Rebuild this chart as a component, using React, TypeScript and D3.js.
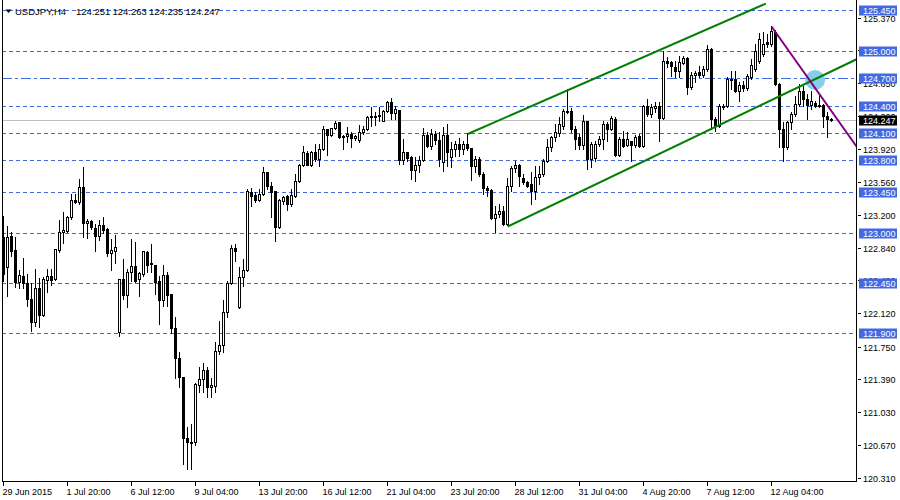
import React from 'react';
import * as d3 from 'd3';

const symbolTitle = 'USDJPY,H4';

const barOpen = [
  122.951,122.621,122.962,122.808,122.456,122.522,122.445,122.269,122.016,122.390,
  122.093,122.478,122.522,122.489,122.808,123.006,123.017,123.171,123.358,123.336,
  123.501,123.105,123.127,123.050,122.962,123.083,123.039,122.775,122.797,121.906,
  122.489,122.313,122.566,122.632,122.489,122.544,122.786,122.665,122.643,122.467,
  122.258,122.533,122.324,121.950,121.620,121.411,120.740,120.685,120.696,121.323,
  121.389,121.488,121.301,121.312,121.697,121.763,122.126,122.445,122.830,122.181,
  122.511,122.588,123.446,123.413,123.358,123.424,123.666,123.512,123.457,123.061,
  123.347,123.402,123.314,123.402,123.567,123.743,123.875,123.743,123.886,123.809,
  123.919,124.139,124.073,124.150,124.216,124.062,124.062,124.084,124.040,124.018,
  124.106,124.139,124.271,124.277,124.282,124.227,124.337,124.436,124.315,124.348,
  123.798,123.886,123.831,123.688,123.743,123.798,124.073,123.952,124.084,124.018,
  123.776,124.073,123.831,123.919,123.974,123.919,123.974,123.930,123.732,123.809,
  123.644,123.490,123.468,123.160,123.204,123.237,123.094,123.512,123.710,123.743,
  123.600,123.556,123.534,123.457,123.611,123.644,123.787,123.941,124.051,124.095,
  124.172,124.337,124.337,124.139,124.051,123.963,124.227,123.809,123.820,123.974,
  124.029,124.194,124.139,124.249,123.853,124.029,123.963,124.007,123.963,124.062,
  123.952,124.392,124.304,124.370,124.392,124.260,124.887,124.876,124.821,124.777,
  124.865,124.920,124.601,124.733,124.766,124.733,124.799,125.019,124.249,124.172,
  124.381,124.392,124.678,124.689,124.557,124.623,124.590,124.711,124.799,124.887,
  124.964,125.096,125.074,125.206,124.634,124.139,123.941,124.216,124.304,124.414,
  124.557,124.469,124.403,124.425,124.392,124.403,124.282,124.251,
];

const barHigh = [
  123.182,123.072,123.006,122.951,122.588,122.720,122.544,122.445,122.599,122.500,
  122.511,122.599,122.599,122.819,123.138,123.226,123.182,123.424,123.424,123.589,
  123.721,123.149,123.138,123.094,123.138,123.171,123.050,122.929,122.973,122.489,
  122.709,122.599,122.929,122.896,122.566,122.797,122.797,122.874,122.643,122.522,
  122.643,122.566,122.324,122.071,121.686,121.411,120.861,120.894,121.345,121.521,
  121.565,121.521,121.400,121.796,122.027,122.258,122.467,122.863,122.874,122.621,
  122.709,123.479,123.490,123.446,123.479,123.721,123.666,123.556,123.457,123.369,
  123.402,123.413,123.479,123.644,123.754,123.952,123.897,123.897,123.974,123.974,
  124.172,124.139,124.150,124.227,124.216,124.073,124.161,124.106,124.073,124.183,
  124.172,124.282,124.381,124.326,124.381,124.348,124.447,124.480,124.392,124.348,
  124.029,123.886,123.842,123.831,123.842,124.150,124.106,124.139,124.117,124.106,
  124.161,124.194,123.996,124.007,124.040,124.007,124.095,123.930,123.842,123.831,
  123.666,123.512,123.479,123.292,123.314,123.292,123.600,123.732,123.787,123.754,
  123.644,123.567,123.666,123.732,123.732,123.809,124.029,124.062,124.194,124.271,
  124.359,124.579,124.370,124.172,124.084,124.293,124.227,123.996,124.007,124.062,
  124.227,124.216,124.282,124.271,124.051,124.117,124.106,124.007,124.073,124.084,
  124.403,124.469,124.414,124.436,124.436,124.997,124.931,124.887,124.887,124.942,
  124.942,124.931,124.766,124.777,124.832,124.832,125.063,125.030,124.271,124.414,
  124.414,124.711,124.777,124.777,124.656,124.667,124.744,124.909,125.074,125.195,
  125.206,125.184,125.272,125.228,124.645,124.216,124.227,124.326,124.502,124.634,
  124.612,124.524,124.557,124.447,124.524,124.414,124.326,124.263,
];

const barLow = [
  122.467,122.302,122.742,122.401,122.390,122.390,122.192,121.917,121.972,121.961,
  122.082,122.346,122.423,122.478,122.786,122.885,123.006,123.149,123.325,123.314,
  122.951,122.940,123.039,122.797,122.918,122.995,122.742,122.588,122.665,121.862,
  122.269,122.181,122.467,122.456,122.302,122.522,122.566,122.566,122.324,121.994,
  122.192,122.192,121.895,121.400,121.301,120.454,120.399,120.399,120.663,121.246,
  121.246,121.191,121.191,121.246,121.664,121.686,122.071,122.434,122.687,122.170,
  122.412,122.577,123.292,123.336,123.347,123.413,123.479,123.171,122.907,123.050,
  123.314,123.248,123.292,123.391,123.556,123.732,123.743,123.732,123.787,123.732,
  123.908,123.853,124.062,124.139,124.040,123.919,123.996,123.941,124.018,123.996,
  124.084,124.128,124.172,124.183,124.227,124.227,124.326,124.249,124.249,123.754,
  123.754,123.787,123.589,123.567,123.666,123.787,123.941,123.919,123.974,123.732,
  123.677,123.732,123.721,123.842,123.842,123.864,123.908,123.578,123.666,123.622,
  123.424,123.402,123.149,123.006,123.171,123.083,123.083,123.457,123.666,123.512,
  123.534,123.501,123.314,123.369,123.534,123.622,123.776,123.897,124.007,124.062,
  124.139,124.315,124.106,123.919,123.919,123.919,123.699,123.721,123.787,123.952,
  123.919,124.007,124.128,123.842,123.842,123.941,123.952,123.787,123.941,123.941,
  123.941,124.282,124.271,124.326,124.007,124.249,124.821,124.722,124.711,124.711,
  124.854,124.524,124.579,124.656,124.711,124.711,124.777,124.139,124.117,124.161,
  124.359,124.381,124.579,124.546,124.447,124.557,124.568,124.689,124.777,124.865,
  124.942,125.041,125.052,124.623,123.941,123.787,123.919,124.139,124.282,124.392,
  124.392,124.249,124.359,124.381,124.381,124.161,124.051,124.235,
];

const barClose = [
  122.544,122.951,122.797,122.456,122.533,122.445,122.269,122.016,122.390,122.093,
  122.489,122.522,122.478,122.819,123.006,123.028,123.171,123.358,123.336,123.501,
  123.105,123.127,123.061,122.962,123.083,123.028,122.775,122.808,122.841,122.489,
  122.313,122.566,122.632,122.467,122.555,122.797,122.643,122.654,122.456,122.258,
  122.533,122.313,121.950,121.620,121.411,120.740,120.696,120.696,121.334,121.389,
  121.488,121.301,121.323,121.697,121.763,122.126,122.445,122.830,122.797,122.511,
  122.588,123.457,123.402,123.358,123.424,123.666,123.512,123.446,123.061,123.358,
  123.391,123.314,123.413,123.567,123.743,123.886,123.743,123.886,123.809,123.919,
  124.139,124.073,124.150,124.205,124.051,124.051,124.084,124.040,124.062,124.106,
  124.139,124.271,124.282,124.282,124.293,124.337,124.436,124.315,124.359,123.798,
  123.886,123.820,123.688,123.743,123.798,124.073,123.952,124.084,124.018,123.809,
  124.073,123.886,123.919,123.974,123.919,123.974,123.930,123.732,123.809,123.644,
  123.490,123.468,123.160,123.204,123.237,123.094,123.512,123.710,123.743,123.622,
  123.556,123.512,123.457,123.611,123.644,123.787,123.941,124.051,124.106,124.194,
  124.337,124.326,124.139,124.029,123.963,124.227,123.809,123.974,123.974,124.029,
  124.194,124.139,124.260,123.853,124.029,123.952,124.029,123.963,124.051,123.952,
  124.392,124.304,124.381,124.392,124.260,124.887,124.865,124.832,124.777,124.876,
  124.920,124.601,124.733,124.755,124.733,124.799,125.019,124.249,124.172,124.392,
  124.392,124.689,124.689,124.557,124.623,124.590,124.722,124.843,124.997,125.129,
  125.074,125.074,125.217,124.634,124.139,123.941,124.216,124.304,124.414,124.557,
  124.469,124.403,124.447,124.392,124.403,124.282,124.249,124.247,
];

const timeLabels = [
  '29 Jun 2015', '1 Jul 20:00', '6 Jul 12:00', '9 Jul 04:00', '13 Jul 20:00',
  '16 Jul 12:00', '21 Jul 04:00', '23 Jul 20:00', '28 Jul 12:00', '31 Jul 04:00',
  '4 Aug 20:00', '7 Aug 12:00', '12 Aug 04:00',
];
const timeLabelBars = [0, 16, 32, 48, 64, 80, 96, 112, 128, 144, 160, 176, 192];

const priceTicks = [
  125.370, 125.010, 124.650, 124.290, 123.920, 123.560, 123.200, 122.840,
  122.480, 122.120, 121.750, 121.390, 121.030, 120.670, 120.310,
];
const priceDomain = [120.266, 125.569];

const dashedLevels = [125.450, 125.000, 124.400, 124.100, 123.800, 123.450, 123.000, 122.450, 121.900];
const dashDotLevels = [124.700];
const bidPrice = 124.247;

// trend lines: [barIndex, price]
const channelUpper = [[116.05, 124.095], [190.6, 125.530]];
const channelLower = [[126.05, 123.077], [213.4, 124.920]];
const purpleLine = [[192.05, 125.275], [213.3, 123.955]];
const markerPoint = [202.9, 124.689];

const FONT = '"Liberation Sans", Arial, sans-serif';
const BLUE = '#4169E1';

export default function App() {
  const left = 2;
  const right = 857;
  const bottom = 482;
  const x = d3.scaleLinear().domain([0, 1]).range([3.5, 7.5]);
  const y = d3.scaleLinear().domain(priceDomain).range([bottom, 0]);
  const row = (v: number) => Math.floor(y(v));

  const fmt = d3.format('.3f');
  const n = barOpen.length;
  const line = d3.line<number[]>().x(d => x(d[0])).y(d => y(d[1]));

  const candles = d3.range(n).map(i => {
    const o = barOpen[i], c = barClose[i], h = barHigh[i], l = barLow[i];
    const cx = x(i);
    const top = row(Math.max(o, c));
    const bot = row(Math.min(o, c));
    const bull = c >= o;
    return (
      <g key={i}>
        <line x1={cx} x2={cx} y1={row(h)} y2={row(l) + 1} stroke="#000" strokeWidth={1} />
        {bull ? (
          bot - top >= 1 ? (
            <rect x={cx - 1} y={top + 0.5} width={2} height={bot - top} fill="#fff" stroke="#000" strokeWidth={1} />
          ) : (
            <line x1={cx - 1.5} x2={cx + 1.5} y1={top + 0.5} y2={top + 0.5} stroke="#000" strokeWidth={1} />
          )
        ) : (
          <rect x={cx - 1.5} y={top} width={3} height={Math.max(1, bot - top + 1)} fill="#000" />
        )}
      </g>
    );
  });

  const last = n - 1;
  const headerValues = [barOpen[last], barHigh[last], barLow[last], barClose[last]];

  return (
    <svg width={900} height={500} style={{ position: 'absolute', left: 0, top: 0, background: '#fff' }}
      fontFamily={FONT}>
      <defs>
        <clipPath id="plot">
          <rect x={left} y={0} width={right - left} height={bottom} />
        </clipPath>
      </defs>
      <rect x={0} y={0} width={900} height={500} fill="#fff" />

      {/* level lines */}
      {dashedLevels.map(p => (
        <line key={'d' + p} x1={left} x2={right} y1={row(p) + 0.5} y2={row(p) + 0.5}
          stroke={BLUE} strokeWidth={1} strokeDasharray="4,3" />
      ))}
      {dashDotLevels.map(p => (
        <line key={'dd' + p} x1={left} x2={right} y1={row(p) + 0.5} y2={row(p) + 0.5}
          stroke={BLUE} strokeWidth={1} strokeDasharray="10,3,3,3" />
      ))}
      <line x1={left} x2={right} y1={row(bidPrice) + 0.5} y2={row(bidPrice) + 0.5} stroke="#c0c0c0" strokeWidth={1} />

      {/* header */}
      <path d="M5.5,9.5 L11.5,9.5 L8.5,13 Z" fill="#000" />
      <text x={15} y={15} fontSize={9.5} fill="#000">{symbolTitle}</text>
      {headerValues.map((v, k) => (
        <text key={'h' + k} x={76 + k * 36.5} y={15} fontSize={9.5} fill="#000">{fmt(v)}</text>
      ))}

      {candles}

      <g clipPath="url(#plot)">
        <circle cx={x(markerPoint[0])} cy={y(markerPoint[1])} r={10} fill="#87CEEB" />
        <path d={line(channelUpper as number[][]) || ''} stroke="#008000" strokeWidth={2} fill="none" />
        <path d={line(channelLower as number[][]) || ''} stroke="#008000" strokeWidth={2} fill="none" />
        <path d={line(purpleLine as number[][]) || ''} stroke="#800080" strokeWidth={2} fill="none" />
      </g>

      {/* frame */}
      <line x1={left + 0.5} x2={left + 0.5} y1={0} y2={bottom} stroke="#000" />
      <line x1={right - 0.5} x2={right - 0.5} y1={0} y2={bottom} stroke="#000" />
      <line x1={left} x2={right} y1={bottom - 0.5} y2={bottom - 0.5} stroke="#000" />

      {/* price axis */}
      {priceTicks.map(p => (
        <g key={'t' + p}>
          <line x1={858} x2={861} y1={row(p) + 0.5} y2={row(p) + 0.5} stroke="#000" />
          <text x={863} y={row(p) + 4} fontSize={9} fill="#000">{fmt(p)}</text>
        </g>
      ))}
      {[...dashedLevels, ...dashDotLevels].map(p => (
        <g key={'b' + p}>
          <rect x={859} y={row(p) - 4.5} width={38} height={10} fill={BLUE} />
          <text x={863} y={row(p) + 4} fontSize={9} fill="#fff">{fmt(p)}</text>
        </g>
      ))}
      <rect x={859} y={row(bidPrice) - 4.5} width={38} height={10} fill="#000" />
      <text x={863} y={row(bidPrice) + 4} fontSize={9} fill="#fff">{fmt(bidPrice)}</text>

      {/* time axis */}
      {timeLabelBars.map((b, k) => (
        <g key={'x' + b}>
          <line x1={x(b)} x2={x(b)} y1={bottom} y2={bottom + 4} stroke="#000" />
          <text x={x(b) - 1} y={495} fontSize={9} fill="#000">{timeLabels[k]}</text>
        </g>
      ))}
    </svg>
  );
}
